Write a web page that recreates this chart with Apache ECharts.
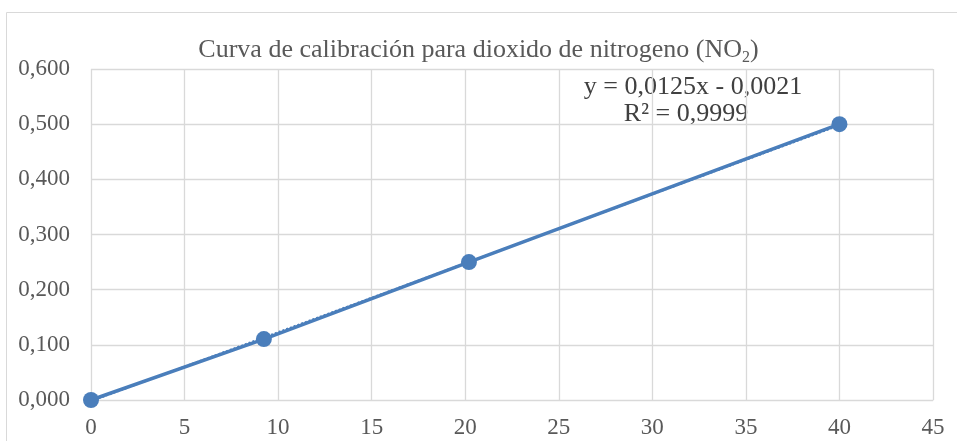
<!DOCTYPE html>
<html>
<head>
<meta charset="utf-8">
<script src="https://cdn.jsdelivr.net/npm/echarts@6/dist/echarts.min.js"></script>
<style>
  html, body { margin: 0; padding: 0; background: #fff; }
  #chart { width: 957px; height: 441px; }
</style>
</head>
<body>
<div id="chart"></div>
<script>
// concentración vs absorbancia
var xValues = [0, 9.24, 20.2, 40]
var yValues = [0, 0.1105, 0.25, 0.5]
var trendX = [0, 40]
var trendY = [-0.0021, 0.4979]
var title = 'Curva de calibración para dioxido de nitrogeno (NO{sub|2})'
var eqLines = ['y = 0,0125x - 0,0021', 'R² = 0,9999']

var font = 'Liberation Serif'
var blue = '#4a7ebb'

var points = xValues.map(function (x, i) { return [x, yValues[i]] })
var trend = trendX.map(function (x, i) { return [x, trendY[i]] })

var chart = echarts.init(document.getElementById('chart'), null, { renderer: 'canvas' })
chart.setOption({
  animation: false,
  title: {
    text: title,
    left: 'center',
    top: 29,
    textStyle: {
      fontFamily: font, fontSize: 26, fontWeight: 'normal', color: '#595959',
      rich: { sub: { fontFamily: font, fontSize: 16, color: '#595959', verticalAlign: 'bottom', padding: [16, 0, 0, 0] } }
    }
  },
  grid: { left: 91, right: 24, top: 69, bottom: 41 },
  xAxis: {
    type: 'value', min: 0, max: 45, interval: 5,
    axisLine: { show: true, onZero: false, lineStyle: { color: '#d9d9d9' } },
    axisTick: { show: false },
    axisLabel: { fontFamily: font, fontSize: 23, color: '#595959', margin: 16 },
    splitLine: { show: true, lineStyle: { color: '#d9d9d9', width: 1.3 } }
  },
  yAxis: {
    type: 'value', min: 0, max: 0.6, interval: 0.1,
    axisLine: { show: false },
    axisTick: { show: false },
    axisLabel: {
      fontFamily: font, fontSize: 23, color: '#595959', margin: 21,
      formatter: function (v) { return v.toFixed(3).replace('.', ',') }
    },
    splitLine: { show: true, lineStyle: { color: '#d9d9d9', width: 1.3 } }
  },
  series: [
    {
      type: 'line', data: trend, symbol: 'none', z: 1,
      lineStyle: { color: blue, width: 2, type: [2, 2] }
    },
    {
      type: 'line', data: points, symbol: 'circle', symbolSize: 16, z: 2,
      lineStyle: { color: blue, width: 3.5 },
      itemStyle: { color: blue }
    }
  ],
  graphic: [
    {
      type: 'rect', left: 4, top: 10, shape: { width: 951, height: 440 },
      style: { fill: 'none', stroke: '#d9d9d9', lineWidth: 1 }, silent: true
    },
    {
      type: 'text', x: 693, y: 87,
      style: { text: eqLines[0], font: '26px "Liberation Serif"', fill: '#404040', align: 'center', verticalAlign: 'middle' }
    },
    {
      type: 'text', x: 686, y: 114,
      style: { text: eqLines[1], font: '26px "Liberation Serif"', fill: '#404040', align: 'center', verticalAlign: 'middle' }
    }
  ]
})
</script>
</body>
</html>
